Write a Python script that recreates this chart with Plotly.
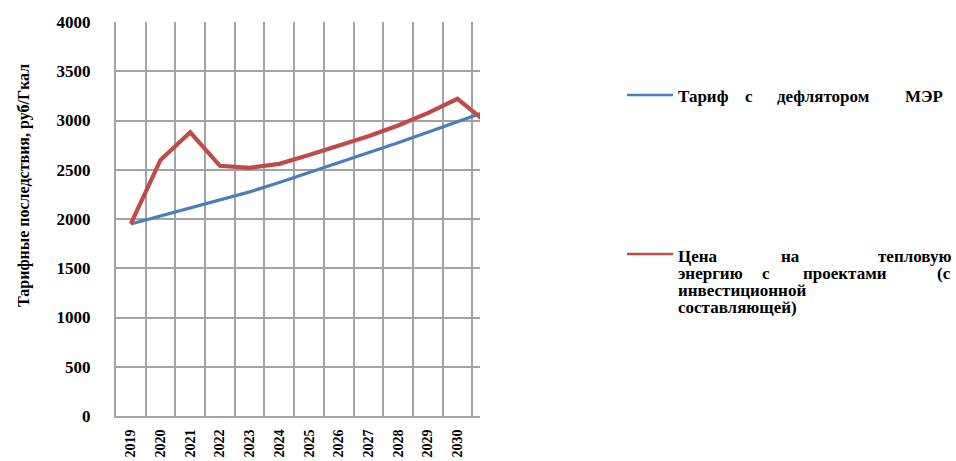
import plotly.graph_objects as go

# Years shown on the category axis (2031 lies just past the visible range)
years = ["2019", "2020", "2021", "2022", "2023", "2024", "2025",
         "2026", "2027", "2028", "2029", "2030", "2031"]

# Tariff indexed by the ministry deflator, rub/Gcal
tariff_deflator = [1950, 2030, 2110, 2190, 2275, 2370, 2470,
                   2570, 2670, 2775, 2880, 2985, 3095]

# Heat price including the investment component, rub/Gcal
price_invest = [1950, 2600, 2880, 2540, 2520, 2560, 2650,
                2740, 2840, 2950, 3075, 3220, 2975]

y_ticks = [0, 500, 1000, 1500, 2000, 2500, 3000, 3500, 4000]

name_blue = "Тариф с дефлятором МЭР"
name_red = "Цена на тепловую энергию с проектами (с инвестиционной составляющей)"
y_title = "Тарифные последствия, руб/Гкал"

BLUE = "#4a7ebb"
RED = "#be4b48"
GRID = "#a3a3a3"
SERIF = "Liberation Serif"

W, H = 956, 461
L, R, T, B = 116, 476, 22, 45
PW, PH = W - L - R, H - T - B


def px_x(x):
    return (x - L) / PW


def px_y(y):
    return (H - B - y) / PH


fig = go.Figure()
fig.add_trace(go.Scatter(x=years, y=tariff_deflator, mode="lines", name=name_blue,
                         line=dict(color=BLUE, width=3.2), cliponaxis=True))
fig.add_trace(go.Scatter(x=years, y=price_invest, mode="lines", name=name_red,
                         line=dict(color=RED, width=4.2), cliponaxis=True))

annotations = []
shapes = []

# y-axis title
annotations.append(dict(text=y_title, x=px_x(24), y=px_y(186), xref="paper", yref="paper",
                        textangle=-90, showarrow=False, xanchor="center", yanchor="middle",
                        font=dict(family=SERIF, size=16, color="#000000", weight="bold")))

legend_font = dict(family=SERIF, size=17, color="#000000", weight="bold")


def legend_word(word, x, y, anchor):
    # one word of a justified legend label
    annotations.append(dict(text=word, x=px_x(x), y=px_y(y), xref="paper", yref="paper",
                            showarrow=False, xanchor=anchor, yanchor="middle",
                            borderpad=0, font=legend_font))


# legend entry: blue series
shapes.append(dict(type="line", xref="paper", yref="paper",
                   x0=px_x(627), x1=px_x(673), y0=px_y(95), y1=px_y(95),
                   line=dict(color=BLUE, width=2.5)))
blue_words = name_blue.split(" ")
blue_place = [(677, "left"), (749, "center"), (823, "center"), (944, "right")]
for w, (x, a) in zip(blue_words, blue_place):
    legend_word(w, x, 96, a)

# legend entry: red series (justified block)
shapes.append(dict(type="line", xref="paper", yref="paper",
                   x0=px_x(627), x1=px_x(673), y0=px_y(254), y1=px_y(254),
                   line=dict(color=RED, width=2.5)))
red_words = name_red.split(" ")
red_place = [(677, 256, "left"), (790, 256, "center"), (952, 256, "right"),
             (677, 273, "left"), (766, 273, "center"), (845, 273, "center"), (952, 273, "right"),
             (677, 290, "left"), (677, 307, "left")]
for w, (x, y, a) in zip(red_words, red_place):
    legend_word(w, x, y, a)

fig.update_layout(
    width=W, height=H,
    margin=dict(l=L, r=R, t=T, b=B, pad=0, autoexpand=False),
    paper_bgcolor="white", plot_bgcolor="white",
    showlegend=False,
    annotations=annotations,
    shapes=shapes,
    xaxis=dict(
        type="category", categoryorder="array", categoryarray=years,
        range=[-0.5, 11.76], tickson="boundaries", automargin=False,
        showgrid=True, gridcolor=GRID, gridwidth=2,
        showline=True, linecolor=GRID, linewidth=2,
        ticks="", tickangle=-90, ticklabelstandoff=6,
        tickfont=dict(family=SERIF, size=14, color="#000000", weight="bold"),
        zeroline=False,
    ),
    yaxis=dict(
        range=[0, 4000], tickvals=y_ticks, ticktext=[str(v) for v in y_ticks],
        automargin=False,
        showgrid=True, gridcolor=GRID, gridwidth=2,
        showline=True, linecolor=GRID, linewidth=2,
        ticks="", ticklabelstandoff=20,
        tickfont=dict(family=SERIF, size=17, color="#000000", weight="bold"),
        zeroline=False,
    ),
)

fig.write_html("out.html")
